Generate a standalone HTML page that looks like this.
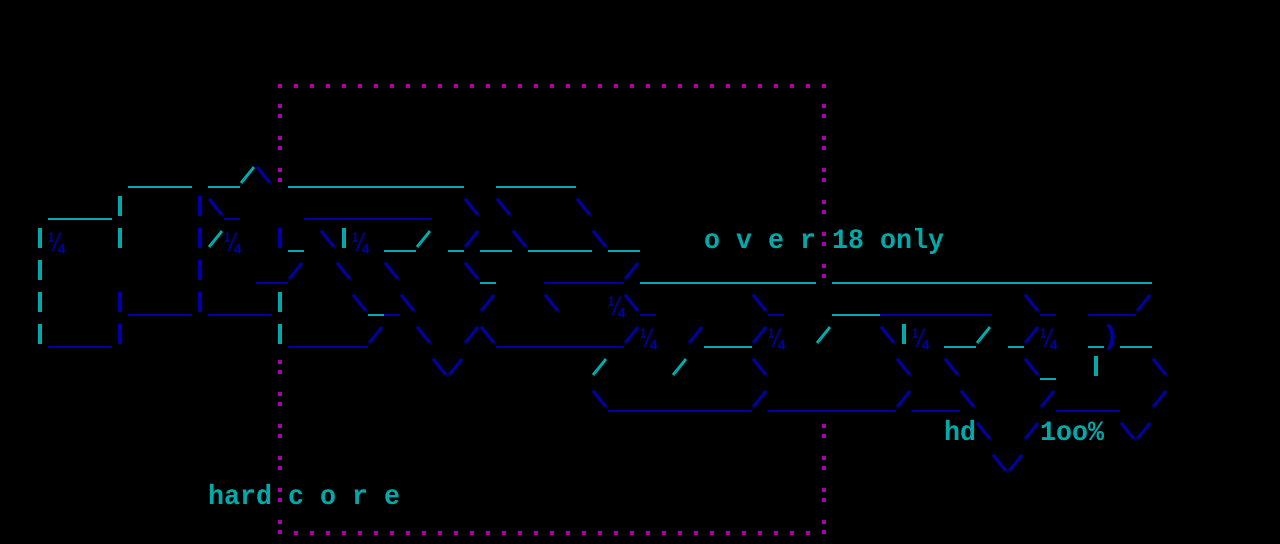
<!DOCTYPE html>
<html><head><meta charset="utf-8">
<style>
html,body{margin:0;padding:0;background:#000;width:1280px;height:544px;overflow:hidden}
svg{display:block}
.t{font-family:"Liberation Mono",monospace;font-weight:bold;font-size:28px;fill:#00AAAA}
.q{font-family:"Liberation Sans",sans-serif;font-weight:bold;font-size:27px;fill:#0000AA}
</style></head><body>
<svg id="s" width="1280" height="544" viewBox="0 0 1280 544" xmlns="http://www.w3.org/2000/svg">
<g id="g"></g>
<text class="t" x="704" y="248" textLength="112" lengthAdjust="spacingAndGlyphs">o v e r</text>
<text class="t" x="832" y="248" textLength="112" lengthAdjust="spacingAndGlyphs">18 only</text>
<text class="t" x="944" y="440" textLength="32" lengthAdjust="spacingAndGlyphs">hd</text>
<text class="t" x="1040" y="440" textLength="64" lengthAdjust="spacingAndGlyphs">1oo%</text>
<text class="t" x="208" y="504" textLength="64" lengthAdjust="spacingAndGlyphs">hard</text>
<text class="t" x="288" y="504" textLength="112" lengthAdjust="spacingAndGlyphs">c o r e</text>
<text class="q" x="48" y="251" textLength="16" lengthAdjust="spacingAndGlyphs">¼</text>
<text class="q" x="224" y="251" textLength="16" lengthAdjust="spacingAndGlyphs">¼</text>
<text class="q" x="352" y="251" textLength="16" lengthAdjust="spacingAndGlyphs">¼</text>
<text class="q" x="608" y="315" textLength="16" lengthAdjust="spacingAndGlyphs">¼</text>
<text class="q" x="640" y="347" textLength="16" lengthAdjust="spacingAndGlyphs">¼</text>
<text class="q" x="768" y="347" textLength="16" lengthAdjust="spacingAndGlyphs">¼</text>
<text class="q" x="912" y="347" textLength="16" lengthAdjust="spacingAndGlyphs">¼</text>
<text class="q" x="1040" y="347" textLength="16" lengthAdjust="spacingAndGlyphs">¼</text>
<text class="q" x="1106" y="344" textLength="10" lengthAdjust="spacingAndGlyphs">)</text>
</svg>
<script>
var C='#00AAAA',B='#0000AA',M='#AA00AA';
var E=[
[5,8,'____',C],[5,13,'__/',C],[5,16,'\\',B],[5,18,'___________',C],[5,31,'_____',C],
[6,3,'____',C],[6,7,'|',C],[6,12,'|',B],[6,13,'\\_',B],[6,19,'________',B],[6,29,'\\',B],[6,31,'\\',B],[6,36,'\\',B],
[7,2,'|',C],[7,7,'|',C],[7,12,'|',B],[7,13,'/',C],[7,17,'|',B],[7,18,'_',C],[7,20,'\\',B],[7,21,'|',C],[7,24,'__/',C],[7,28,'_',C],[7,29,'/',B],[7,30,'__',C],[7,32,'\\',B],[7,33,'____',C],[7,37,'\\',B],[7,38,'__',C],
[8,2,'|',C],[8,12,'|',B],[8,16,'__/',B],[8,21,'\\',B],[8,24,'\\',B],[8,29,'\\',B],[8,30,'_',C],[8,34,'_____/',B],[8,40,'___________',C],[8,52,'____________________',C],
[9,2,'|',C],[9,7,'|____|____',B],[9,17,'|',C],[9,22,'\\',B],[9,23,'_',C],[9,24,'_\\',B],[9,30,'/',B],[9,34,'\\',B],[9,39,'\\_',B],[9,47,'\\_',B],[9,52,'___',C],[9,55,'_______',B],[9,64,'\\_',B],[9,68,'___/',B],
[10,2,'|',C],[10,3,'____|',B],[10,17,'|',C],[10,18,'_____/',B],[10,26,'\\',B],[10,29,'/\\________/',B],[10,43,'/',B],[10,44,'___',C],[10,47,'/',B],[10,51,'/',C],[10,55,'\\',B],[10,56,'|',C],[10,59,'__/',C],[10,63,'_',C],[10,64,'/',B],[10,68,'_',C],[10,70,'__',C],
[11,27,'\\/',B],[11,37,'/',C],[11,42,'/',C],[11,47,'\\',B],[11,56,'\\',B],[11,59,'\\',B],[11,64,'\\',B],[11,65,'_',C],[11,68,'|',C],[11,72,'\\',B],
[12,37,'\\_________/________/___\\',B],[12,65,'/____',B],[12,72,'/',B],
[13,61,'\\',B],[13,64,'/',B],[13,70,'\\/',B],
[14,62,'\\/',B]
];
var g=document.getElementById('g'),h='';
function R(x,y,w,hh,c){h+='<rect x="'+x+'" y="'+y+'" width="'+w+'" height="'+hh+'" fill="'+c+'"/>';}
function L(x1,y1,x2,y2,c){h+='<line x1="'+x1+'" y1="'+y1+'" x2="'+x2+'" y2="'+y2+'" stroke="'+c+'" stroke-width="3"/>';}
E.forEach(function(e){var r=e[0],c0=e[1],s=e[2],col=e[3];for(var i=0;i<s.length;i++){var ch=s[i],x=(c0+i)*16,y=r*32;
if(ch=='_')R(x,y+26,16,2,col);else if(ch=='|')R(x+6,y+4,4,20,col);else if(ch=='/')L(x+1,y+23,x+14,y+7,col);else if(ch=='\\')L(x+1,y+7,x+14,y+23,col);}});
for(var c=17;c<=51;c++){R(c*16+6,84,4,4,M);}
for(var c=18;c<=50;c++){R(c*16+6,531,4,4,M);}
var ex17=[6,7,8,9,10],ex51=[9,10,11,12];
for(var r=3;r<=16;r++){
 if(ex17.indexOf(r)<0){R(278,r*32+8,4,4,M);R(278,r*32+18,4,4,M);}
 if(ex51.indexOf(r)<0){R(822,r*32+8,4,4,M);R(822,r*32+18,4,4,M);}
}
g.innerHTML=h;
</script>
</body></html>
